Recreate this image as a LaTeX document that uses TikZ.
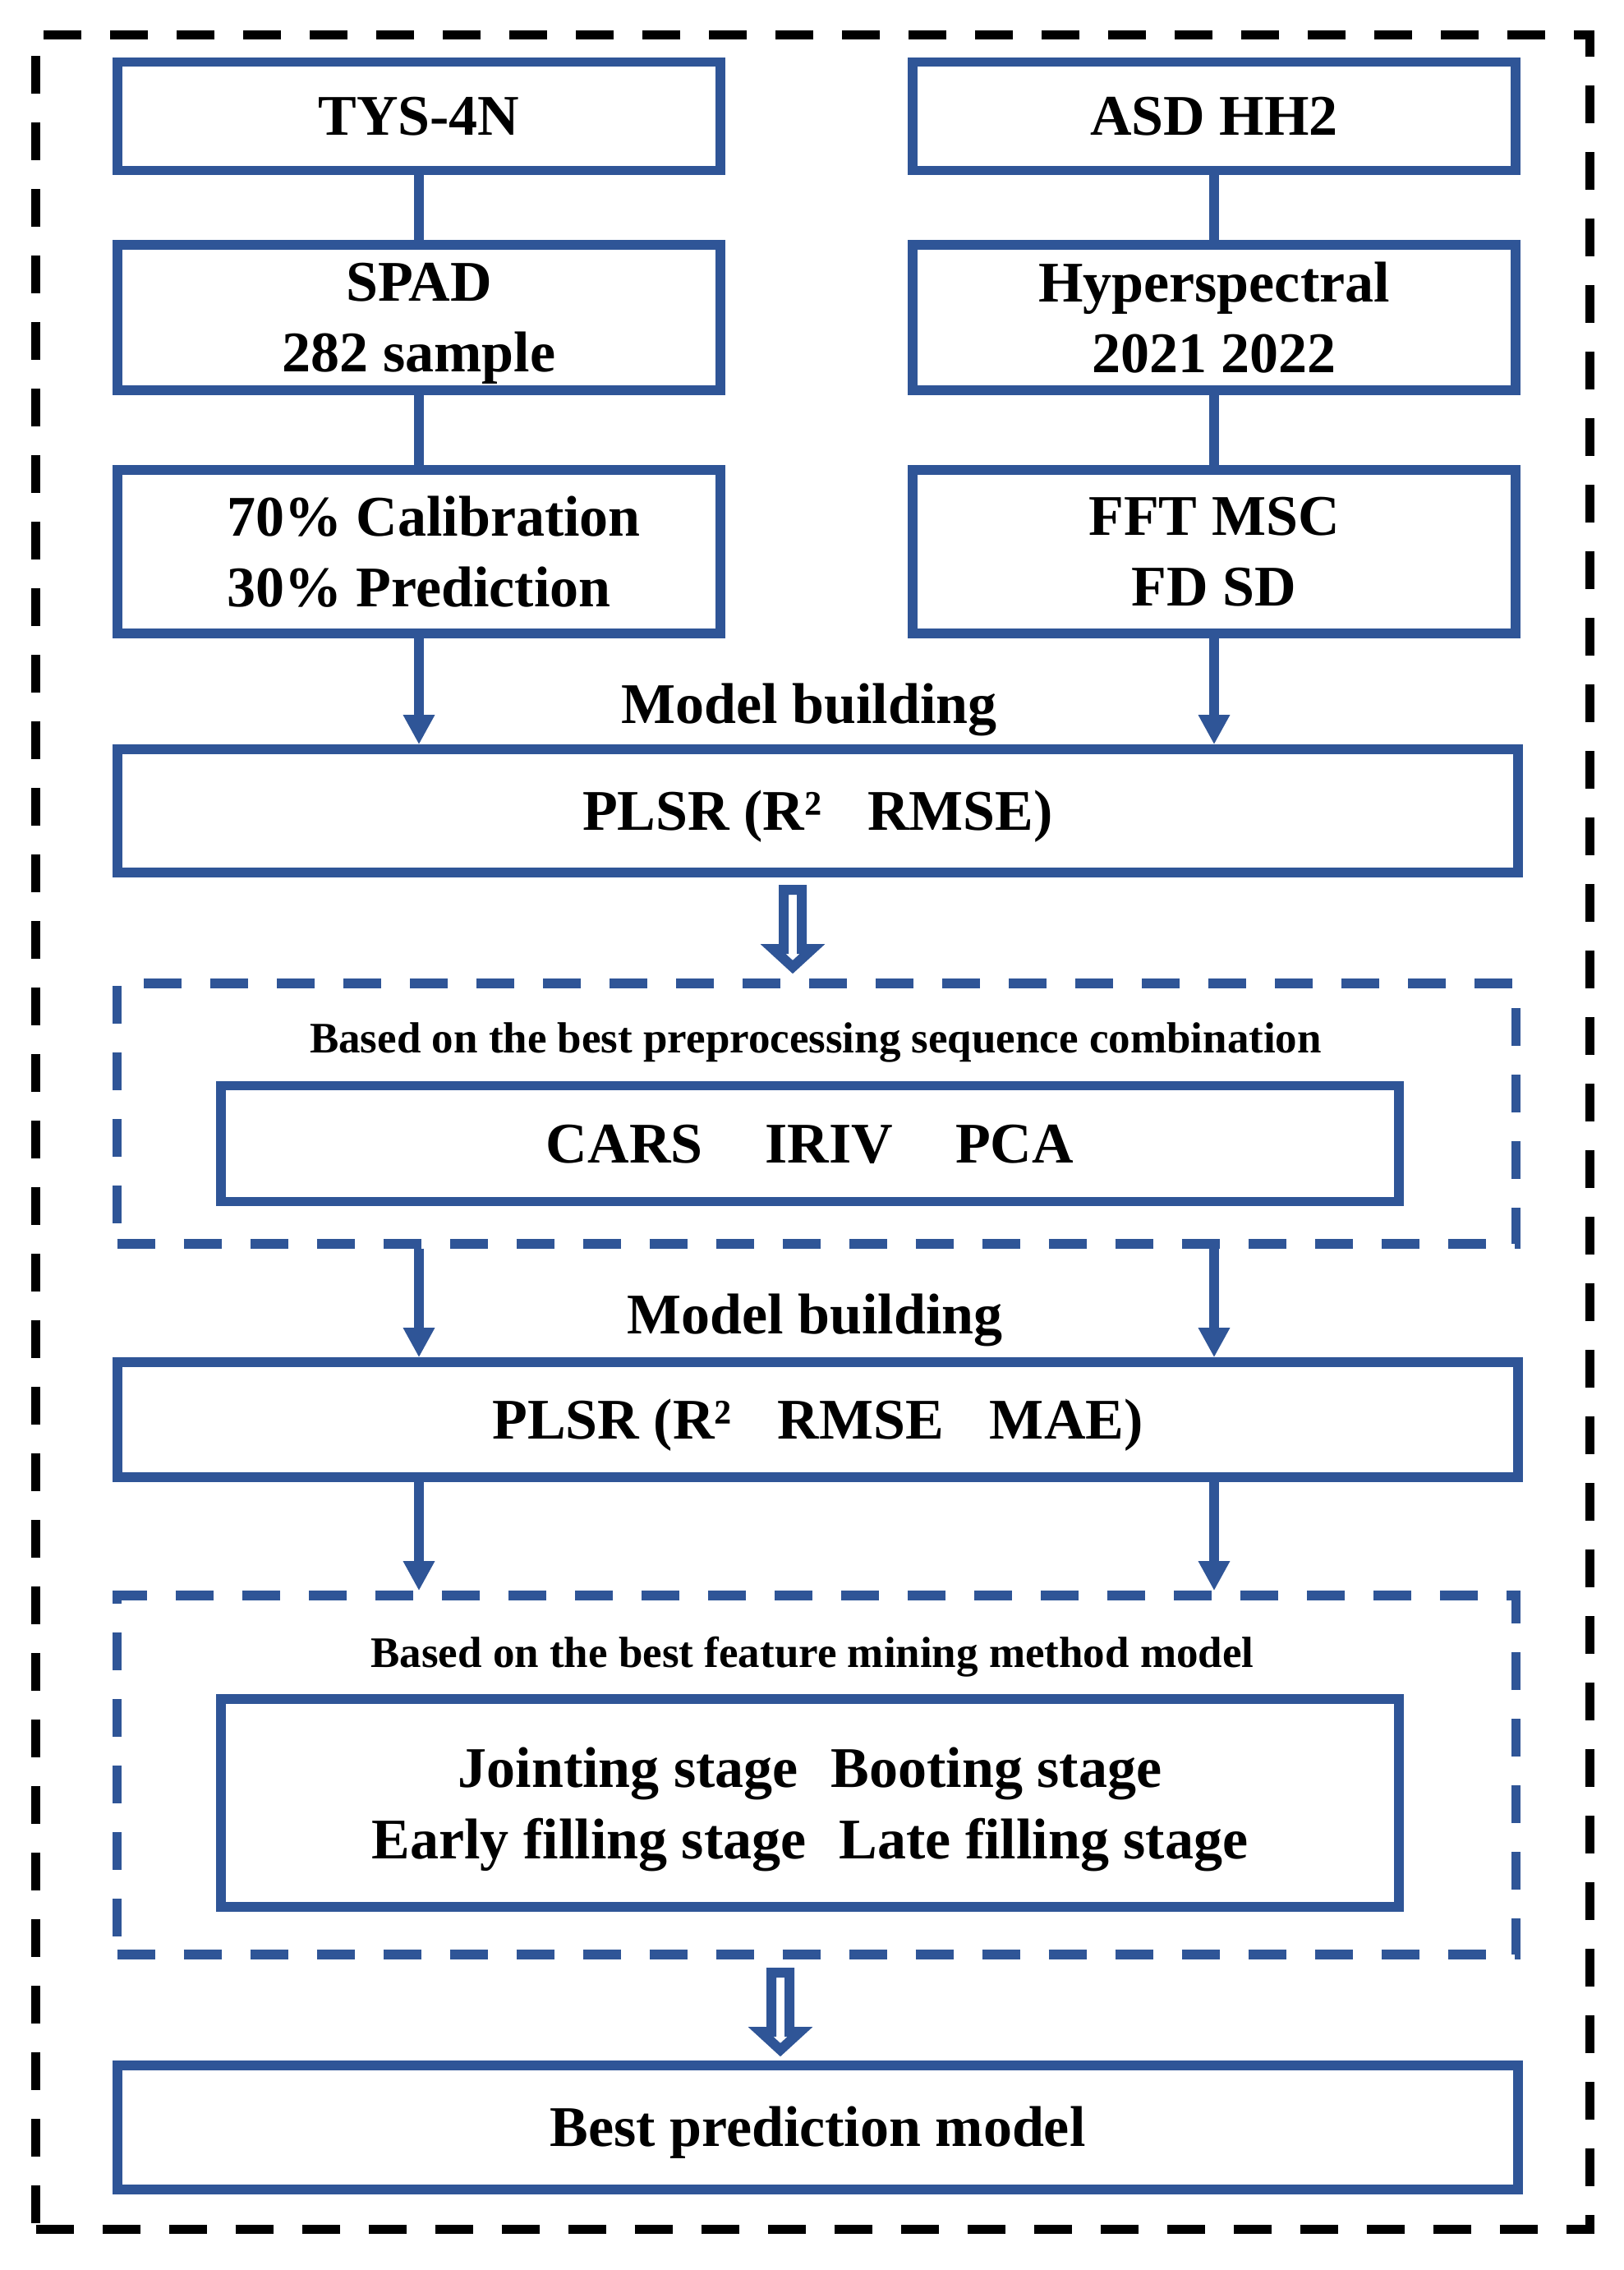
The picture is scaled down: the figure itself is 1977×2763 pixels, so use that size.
\documentclass[tikz,border=0pt]{standalone}
\usepackage{fontspec}
\setmainfont{Liberation Serif}
\usetikzlibrary{arrows.meta,calc}
\definecolor{bl}{RGB}{47,85,151}
\begin{document}
\begin{tikzpicture}[x=0.25pt,y=-0.25pt,
  box/.style={draw=bl, line width=2.9pt, minimum width=183.5pt, inner sep=0pt,
    font=\fontsize{17.5}{21.6}\selectfont\bfseries, align=center,
    text depth=0pt},
  oneline/.style={text height=11.6pt},
  wide/.style={minimum width=426.25pt},
  dbox/.style={draw=bl, line width=2.9pt, dash pattern=on 11.5pt off 8.75pt,
    minimum width=425.75pt, inner sep=0pt},
  lbl/.style={inner sep=0pt, font=\fontsize{17.5}{21.6}\selectfont\bfseries},
  smalllbl/.style={inner sep=0pt, font=\fontsize{13.25}{16}\selectfont\bfseries},
  conn/.style={draw=bl, line width=2.9pt},
  arr/.style={draw=bl, line width=2.9pt, -{Triangle[length=9pt,width=9pt]}},
  hollowarrow/.pic={\draw[bl, line width=3pt, miter limit=10, fill=white]
    (-11,6) -- (11,6) -- (11,78) -- (24,78) -- (0,100) -- (-24,78) -- (-11,78) -- cycle;}
]
\useasboundingbox (0,0) rectangle (1977,2763);

% outer frame
\node[draw=black, line width=2.75pt, dash pattern=on 11.5pt off 8.75pt,
  minimum width=473pt, minimum height=667.625pt, inner sep=0pt] (frame) at (989.5,1377.75) {};

% dashed groups
\node[dbox, minimum height=79.25pt] (d1) at (994,1355.5) {};
\node[dbox, minimum height=109.25pt] (d2) at (994,2160.5) {};

% boxes
\node[box, oneline, minimum height=33pt] (tys) at (510,141.5) {TYS-4N};
\node[box, oneline, minimum height=33pt] (asd) at (1478,141.5) {ASD HH2};
\node[box, minimum height=44.25pt] (spad) at (510,386.5) {SPAD\\282 sample};
\node[box, minimum height=44.25pt] (hyp) at (1478,386.5) {Hyperspectral\\2021 2022};
\node[box, minimum height=49.75pt, align=left] (cal) at (510,671.5) {\hspace*{9pt}70\% Calibration\\\hspace*{9pt}30\% Prediction};
\node[box, minimum height=49.75pt] (fft) at (1478,671.5) {FFT MSC\\FD SD};
\node[box, oneline, wide, minimum height=37.5pt] (plsr1) at (995.5,987) {PLSR (R²\hspace{14pt}RMSE)};
\node[box, oneline, minimum width=358.5pt, minimum height=35.25pt] (cars) at (986,1392) {CARS\hspace{19pt}IRIV\hspace{19pt}PCA};
\node[box, oneline, wide, minimum height=35pt] (plsr2) at (995.5,1728) {PLSR (R²\hspace{14pt}RMSE\hspace{14pt}MAE)};
\node[box, minimum width=358.5pt, minimum height=63.25pt] (joint) at (986,2194.5) {Jointing stage\hspace{10pt}Booting stage\\Early filling stage\hspace{10pt}Late filling stage};
\node[box, oneline, wide, minimum height=37.75pt] (best) at (995.5,2589.5) {Best prediction model};

% labels
\node[lbl, anchor=base] (mb1) at (985,880) {Model building};
\node[lbl, anchor=base] (mb2) at (992,1623) {Model building};
\node[smalllbl, anchor=base] (b1) at (993,1281) {Based on the best preprocessing sequence combination};
\node[smalllbl, anchor=base] (b2) at (989,2029) {Based on the best feature mining method model};

% connectors
\draw[conn] (tys) -- (spad);
\draw[conn] (spad) -- (cal);
\draw[conn] (asd) -- (hyp);
\draw[conn] (hyp) -- (fft);
\draw[arr] (cal.south) -- (cal.south |- plsr1.north);
\draw[arr] (fft.south) -- (fft.south |- plsr1.north);
\draw[arr] (d1.south -| cal.south) -- (cal.south |- plsr2.north);
\draw[arr] (d1.south -| fft.south) -- (fft.south |- plsr2.north);
\draw[arr] (plsr2.south -| cal.south) -- (cal.south |- d2.north);
\draw[arr] (plsr2.south -| fft.south) -- (fft.south |- d2.north);

% hollow arrows
\pic at (965,1077) {hollowarrow};
\pic at (950,2395) {hollowarrow};
\end{tikzpicture}
\end{document}
